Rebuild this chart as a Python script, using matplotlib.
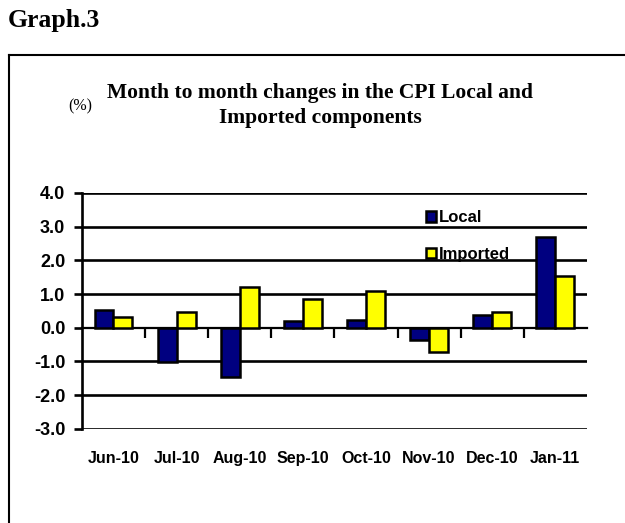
import numpy as np
import matplotlib.pyplot as plt
from matplotlib.patches import Patch
from matplotlib.lines import Line2D

months   = ["Jun-10", "Jul-10", "Aug-10", "Sep-10", "Oct-10", "Nov-10", "Dec-10", "Jan-11"]
local    = [0.53, -1.03, -1.45, 0.19, 0.23, -0.37, 0.38, 2.70]
imported = [0.33, 0.47, 1.20, 0.86, 1.10, -0.73, 0.48, 1.54]
yticks   = [-3, -2, -1, 0, 1, 2, 3, 4]

navy = "#000080"
yellow = "#FFFF00"
sans = "Liberation Sans"
serif = "Liberation Serif"

fig = plt.figure(figsize=(6.25, 5.23), dpi=100)
ax = fig.add_axes([0.131, 0.180, 0.808, 0.451])

x = np.arange(len(months))
w = 0.3
ax.bar(x - w/2, local, w, color=navy, edgecolor="black", linewidth=1.8, zorder=3)
ax.bar(x + w/2, imported, w, color=yellow, edgecolor="black", linewidth=1.8, zorder=3)

ax.set_xlim(-0.5, len(months) - 0.5)
ax.set_ylim(-3, 4)
ax.set_yticks(yticks)
ax.set_yticklabels(["%.1f" % v for v in yticks], fontfamily=sans, fontweight="bold", fontsize=13)
for v in yticks:
    if v != 0:
        ax.axhline(v, color="black", linewidth=1.9, zorder=1)
ax.tick_params(axis="y", direction="out", length=6, width=1.9, pad=6)

# category axis drawn at zero, ticks between categories
ax.spines["bottom"].set_position(("data", 0))
ax.spines["bottom"].set_linewidth(1.6)
ax.spines["left"].set_linewidth(1.9)
ax.spines["top"].set_visible(False)
ax.spines["right"].set_visible(False)
ax.set_xticks(np.arange(1, len(months)) - 0.5)
ax.set_xticklabels([])
ax.tick_params(axis="x", direction="out", length=7, width=1.6)

sec = ax.secondary_xaxis(0.0)
sec.set_xticks(x)
sec.set_xticklabels(months, fontfamily=sans, fontweight="bold", fontsize=11.5)
sec.tick_params(length=0, pad=16)
sec.spines["bottom"].set_visible(False)

handles = [Patch(facecolor=navy, edgecolor="black", linewidth=1.8),
           Patch(facecolor=yellow, edgecolor="black", linewidth=1.8)]
ax.legend(handles, ["Local", "Imported"], loc="upper left", bbox_to_anchor=(0.652, 0.99),
          frameon=False, handlelength=0.6, handleheight=0.6, handletextpad=0.15,
          labelspacing=1.3, prop={"family": sans, "weight": "bold", "size": 12})

# outer frame and titles
fig.add_artist(Line2D([9/625, 1.0], [1 - 55/523, 1 - 55/523], color="black", linewidth=1.5))
fig.add_artist(Line2D([9/625, 9/625], [1 - 55/523, 0.0], color="black", linewidth=1.5))
fig.text(8/625, 1 - 21/523, "Graph.3", fontfamily=serif, fontweight="bold", fontsize=18.5, va="center")
fig.text(320/625, 1 - 93/523, "Month to month changes in the CPI Local and", fontfamily=serif,
         fontweight="bold", fontsize=15.5, ha="center", va="center")
fig.text(320/625, 1 - 118/523, "Imported components", fontfamily=serif,
         fontweight="bold", fontsize=15.5, ha="center", va="center")
fig.text(68/625, 1 - 106/523, "(%)", fontfamily=serif, fontsize=11.5, va="center")

fig.savefig("out.png", dpi=100)
